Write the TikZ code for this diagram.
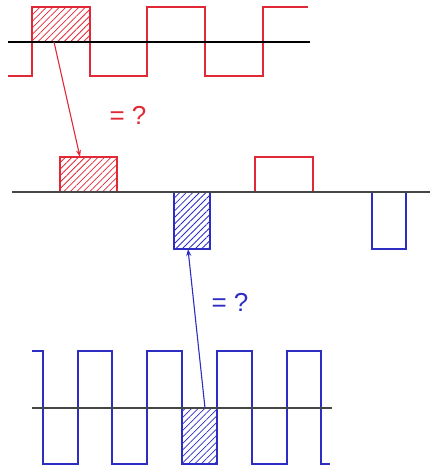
\documentclass[tikz,border=0pt]{standalone}
\usepackage{fontspec}
\setmainfont{Liberation Sans}
\usetikzlibrary{patterns.meta,arrows.meta}
\definecolor{wred}{RGB}{225,40,55}
\definecolor{wblue}{RGB}{45,45,195}
\definecolor{axisgray}{RGB}{70,70,70}
\begin{document}
\begin{tikzpicture}[x=1pt,y=-1pt,
  wave/.style={line width=1.3pt},
  axisline/.style={axisgray,line width=1.4pt},
  hatchred/.style={draw=wred,line width=1.3pt,pattern={Lines[angle=45,distance=4.6pt,line width=0.8pt]},pattern color=wred},
  hatchblue/.style={draw=wblue,line width=1.3pt,pattern={Lines[angle=45,distance=4.6pt,line width=0.8pt]},pattern color=wblue},
  conn/.style={line width=1.1pt,-{Stealth[length=7pt,width=5pt]}},
  qlabel/.style={font=\fontsize{26}{28}\selectfont,inner sep=0pt}]
\useasboundingbox (0,0) rectangle (431,470);
% top red wave
\draw[hatchred] (32,7) rectangle (90,42);
\draw[wave,wred] (8,76) -- (32,76) -- (32,7) -- (90,7) -- (90,76) -- (147,76) -- (147,7) -- (205,7) -- (205,76) -- (263,76) -- (263,7) -- (308,7);
\draw[axisline,black] (8,42) -- (310,42);
% middle axis and blocks
\draw[hatchred] (60,157) rectangle (117,192);
\draw[wred,line width=1.3pt] (255,192) -- (255,157) -- (313,157) -- (313,192);
\draw[hatchblue] (174,192) rectangle (210,249);
\draw[wblue,line width=1.3pt] (372,192) -- (372,249) -- (406,249) -- (406,192);
\draw[axisline] (12,192) -- (430,192);
% bottom blue wave
\draw[hatchblue] (182,408) rectangle (217,464);
\draw[wave,wblue] (32,351) -- (43,351) -- (43,464) -- (78,464) -- (78,351) -- (112,351) -- (112,464) -- (147,464) -- (147,351) -- (182,351) -- (182,464) -- (217,464) -- (217,351) -- (252,351) -- (252,464) -- (287,464) -- (287,351) -- (321,351) -- (321,464) -- (330,464);
\draw[axisline] (32,408) -- (332,408);
% connectors
\coordinate (rs) at (54,42);
\coordinate (re) at (80,157);
\coordinate (bs) at (205,408);
\coordinate (be) at (188,249);
\draw[conn,wred] (rs) -- (re);
\draw[conn,wblue] (bs) -- (be);
\node[qlabel,wred] (rq) at (128,115) {= ?};
\node[qlabel,wblue] (bq) at (230,302) {= ?};
\end{tikzpicture}
\end{document}
